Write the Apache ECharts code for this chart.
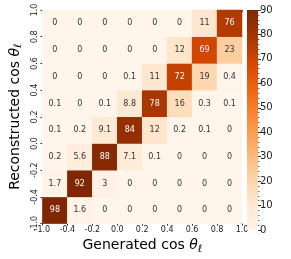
<!DOCTYPE html>
<html><head><meta charset="utf-8">
<script src="https://cdn.jsdelivr.net/npm/echarts@6/dist/echarts.min.js"></script>
<style>html,body{margin:0;padding:0;background:#fff}#c{width:291px;height:259px}</style>
</head><body><div id="c"></div>
<script>
const xEdges = ['-1.0','-0.4','-0.2','0.0','0.2','0.4','0.6','0.8','1.0'];
const yEdges = ['-1.0','-0.4','-0.2','0.0','0.2','0.4','0.6','0.8','1.0'];
// rows listed from top (0.8..1.0) to bottom (-1.0..-0.4)
const row7 = [0, 0, 0, 0, 0, 0, 11, 76];
const row6 = [0, 0, 0, 0, 0, 12, 69, 23];
const row5 = [0, 0, 0, 0.1, 11, 72, 19, 0.4];
const row4 = [0.1, 0, 0.1, 8.8, 78, 16, 0.3, 0.1];
const row3 = [0.1, 0.2, 9.1, 84, 12, 0.2, 0.1, 0];
const row2 = [0.2, 5.6, 88, 7.1, 0.1, 0, 0, 0];
const row1 = [1.7, 92, 3, 0, 0, 0, 0, 0];
const row0 = [98, 1.6, 0, 0, 0, 0, 0, 0];
const colorbarTicks = [0, 10, 20, 30, 40, 50, 60, 70, 80, 90];

const rows = [row0, row1, row2, row3, row4, row5, row6, row7];
const cats = ['0','1','2','3','4','5','6','7'];
const oranges = ['#fff5eb','#fee6ce','#fdd0a2','#fdae6b','#fd8d3c','#f16913','#d94801','#a63603','#7f2704'];
const vmax = colorbarTicks[colorbarTicks.length - 1];

const heat = [];
rows.forEach((r, yi) => r.forEach((v, xi) => {
  heat.push({ value: [xi, yi, v], label: { color: v > 50 ? '#ffffff' : '#333333' } });
}));

const FONT = 'DejaVu Sans';
const nameRich = {
  a: { fontSize: 14, fontFamily: FONT, color: '#000' },
  t: { fontSize: 14, fontFamily: FONT, fontStyle: 'italic', color: '#000' },
  s: { fontSize: 10, fontFamily: FONT, fontStyle: 'italic', color: '#000', padding: [7, 0, 0, 0] }
};

const chart = echarts.init(document.getElementById('c'), null, { renderer: 'canvas' });
chart.setOption({
  animation: false,
  backgroundColor: '#fff',
  grid: [
    { left: 28, top: 10, width: 214, height: 221 },
    { left: 247, top: 10, width: 11, height: 220 }
  ],
  xAxis: [
    { type: 'category', data: cats, gridIndex: 0, show: false },
    { type: 'value', gridIndex: 0, min: 0, max: 8, interval: 1, position: 'bottom',
      axisLine: { show: false }, splitLine: { show: false },
      axisTick: { show: true, length: 2, lineStyle: { color: '#333' } },
      axisLabel: { fontSize: 8, fontFamily: FONT, color: '#222', margin: 2, formatter: v => xEdges[Math.round(v)] },
      name: '{a|Generated cos }{t|θ}{s|ℓ}', nameLocation: 'middle', nameGap: 8,
      nameTextStyle: { rich: nameRich } },
    { type: 'value', gridIndex: 0, min: 0, max: 8, interval: 1, position: 'top',
      axisLine: { show: false }, splitLine: { show: false }, axisLabel: { show: false },
      axisTick: { show: true, inside: true, length: 2, lineStyle: { color: '#555' } } },
    { type: 'category', data: ['c'], gridIndex: 1, show: false }
  ],
  yAxis: [
    { type: 'category', data: cats, gridIndex: 0, show: false },
    { type: 'value', gridIndex: 0, min: 0, max: 8, interval: 1, position: 'left',
      axisLine: { show: false }, splitLine: { show: false },
      axisTick: { show: true, length: 2, lineStyle: { color: '#333' } },
      axisLabel: { fontSize: 8, fontFamily: FONT, color: '#222', margin: 3, rotate: 90, formatter: v => yEdges[Math.round(v)] },
      name: '{a|Reconstructed cos }{t|θ}{s|ℓ}', nameLocation: 'middle', nameGap: 11, nameRotate: 90,
      nameTextStyle: { rich: nameRich } },
    { type: 'value', gridIndex: 0, min: 0, max: 8, interval: 1, position: 'right',
      axisLine: { show: false }, splitLine: { show: false }, axisLabel: { show: false },
      axisTick: { show: true, inside: true, length: 2, lineStyle: { color: '#555' } } },
    { type: 'value', gridIndex: 1, min: 0, max: vmax, interval: 10, position: 'right',
      axisLine: { show: false }, splitLine: { show: false },
      axisTick: { show: true, length: 3, lineStyle: { color: '#333' } },
      minorTick: { show: true, splitNumber: 5, length: 1.5, lineStyle: { color: '#666' } },
      axisLabel: { fontSize: 10, fontFamily: FONT, color: '#222', margin: 2 } }
  ],
  visualMap: {
    type: 'continuous', show: false, seriesIndex: 0, dimension: 2,
    min: 0, max: vmax, inRange: { color: oranges }, outOfRange: { color: oranges[oranges.length - 1] }
  },
  series: [
    { type: 'heatmap', xAxisIndex: 0, yAxisIndex: 0, data: heat,
      label: { show: true, fontSize: 8, fontFamily: FONT, formatter: p => String(p.value[2]) },
      itemStyle: { borderWidth: 0 } },
    { type: 'bar', xAxisIndex: 3, yAxisIndex: 3, data: [vmax], barWidth: '100%', silent: true,
      itemStyle: { color: new echarts.graphic.LinearGradient(0, 0, 0, 1,
        oranges.slice().reverse().map((c, i, a) => ({ offset: i / (a.length - 1), color: c }))) } }
  ]
});
</script></body></html>
